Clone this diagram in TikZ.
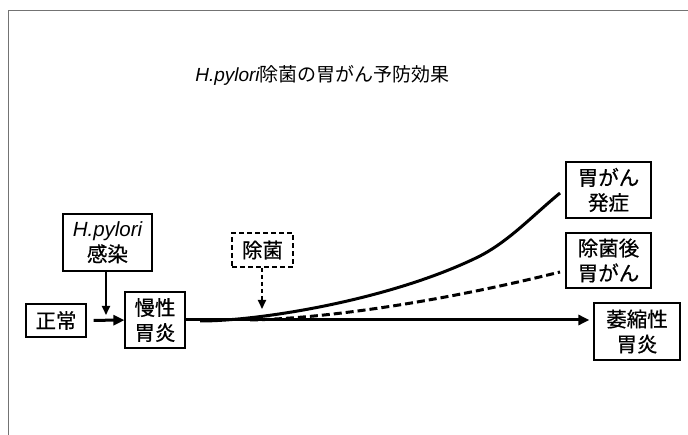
\documentclass[tikz,border=0pt]{standalone}
\usepackage{fontspec}
\setmainfont{Liberation Sans}
\newfontfamily\cjk[FakeBold=0.6]{Noto Sans CJK JP}
\newfontfamily\cjktitle{Noto Sans CJK JP}
\usetikzlibrary{arrows.meta}
\begin{document}
\begin{tikzpicture}[x=1pt,y=-1pt,
  lbl/.style={draw=black, line width=1.2pt, align=center, inner sep=0pt,
    font=\fontsize{20.5}{25}\selectfont\cjk},
  arrthick/.style={line width=3pt, -{Triangle[length=11pt,width=10pt]}},
  arrthin/.style={line width=2pt, -{Triangle[length=9pt,width=8pt]}},
  curve/.style={line width=3pt},
  dcurve/.style={line width=3pt, dash pattern=on 8pt off 4pt}]
\useasboundingbox (0,0) rectangle (688,435);
\draw[black!55, line width=1.5pt] (8.5,435) |- (688,10.5);

\node[font=\fontsize{19}{24}\selectfont] (title) at (322.5,75)
  {\itshape H.pylori\upshape\cjktitle 除菌の胃がん予防効果};

\node[lbl, minimum width=60pt, minimum height=33pt] (normal) at (56,320.5) {正常};
\node[lbl, minimum width=60pt, minimum height=56pt] (chronic) at (155,320) {慢性\\胃炎};
\node[lbl, line width=2pt, minimum width=89pt, minimum height=57pt] (hp) at (107.5,242.5)
  {{\fontspec{Liberation Sans}\itshape H.pylori}\\感染};
\node[lbl, line width=2pt, dash pattern=on 5pt off 3pt, minimum width=61pt, minimum height=34pt] (erad) at (262.5,250) {除菌};
\node[lbl, minimum width=86pt, minimum height=57pt] (atro) at (637,331.5) {萎縮性\\胃炎};
\node[lbl, minimum width=85pt, minimum height=56pt] (cancer) at (608.5,190) {胃がん\\発症};
\node[lbl, minimum width=85pt, minimum height=55pt] (postcancer) at (608.5,260.5) {除菌後\\胃がん};

\coordinate (hpend) at (106,315);
\coordinate (eradend) at (262,309);
\coordinate (split) at (200,321);
\coordinate (dsplit) at (250,320);
\coordinate (cend) at (560,193);
\coordinate (dend) at (560,272);

\draw[arrthick, shorten <=7pt] (normal) -- (chronic);
\draw[arrthin] (hp.south -| hpend) -- (hpend);
\draw[arrthin, dash pattern=on 4pt off 3pt] (erad.south -| eradend) -- (eradend);
\draw[arrthick, shorten >=4pt] (chronic.east) -- (chronic.east -| atro.west);
\draw[curve] (split) .. controls (260,321) and (390,300) .. (478,257)
  .. controls (508,242) and (530,218) .. (cend);
\draw[dcurve] (dsplit) .. controls (340,318) and (460,297) .. (dend);
\end{tikzpicture}
\end{document}
